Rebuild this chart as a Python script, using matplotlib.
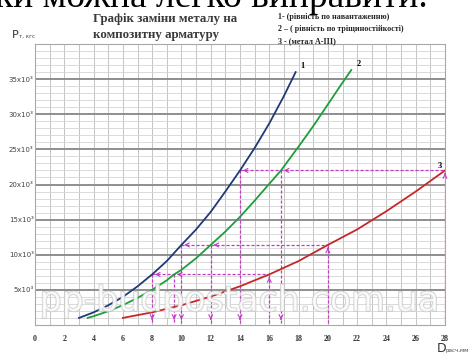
import matplotlib
matplotlib.use("Agg")
import matplotlib.pyplot as plt
import matplotlib.patheffects as PathEffects
from matplotlib.ticker import MultipleLocator

# Curve data (diameter, load)
d_curve1 = [3, 4, 5, 6, 7, 8, 9, 10, 11, 12, 13, 14, 15, 16, 17, 17.8]
p_curve1 = [1000, 1800, 2800, 4000, 5500, 7200, 9100, 11400, 13600, 16100,
            19000, 22000, 25200, 28700, 32600, 36000]

d_curve2 = [3.6, 4, 5, 6, 7, 8, 9, 9.5, 10, 11, 12, 13, 14, 15, 16, 16.8,
            18, 19, 20, 21, 21.6]
p_curve2 = [1020, 1250, 1960, 2830, 3850, 5020, 6360, 7200, 7850, 9500,
            11400, 13300, 15400, 17700, 20100, 22000, 25400, 28300, 31400,
            34500, 36300]

d_curve3 = [6, 8, 10, 12, 14, 16, 18, 20, 22, 24, 26, 28]
p_curve3 = [1010, 1800, 2810, 4050, 5510, 7200, 9100, 11400, 13600, 16200,
            19000, 22000]

# Dashed read-off examples: load level and diameters on curves 1, 2, 3
levels = [7200, 11400, 22000]
d_on_1 = [8, 10, 14]
d_on_2 = [9.5, 12, 16.8]
d_on_3 = [16, 20, 28]

x_ticks = list(range(0, 29, 2))
y_ticks = [5000, 10000, 15000, 20000, 25000, 30000, 35000]
y_labels = ["5x10³", "10x10³", "15x10³", "20x10³", "25x10³", "30x10³", "35x10³"]

legend_lines = ["1- (рівність по навантаженню)",
                "2 – ( рівність по тріщиностійкості)",
                "3 - (метал А-ІІІ)"]

fig = plt.figure(figsize=(4.7, 3.54), dpi=100)
fig.patch.set_facecolor("white")
ax = fig.add_axes([35 / 470, 29 / 354, 410 / 470, 281 / 354])

ax.set_xlim(0, 28)
ax.set_ylim(0, 40000)

# grid
ax.xaxis.set_major_locator(MultipleLocator(2))
ax.xaxis.set_minor_locator(MultipleLocator(1))
ax.set_yticks(y_ticks)
ax.yaxis.set_minor_locator(MultipleLocator(1000))
ax.grid(which="minor", axis="y", color="#d4d4d4", lw=0.6)
ax.grid(which="both", axis="x", color="#c4c4c4", lw=0.7)
ax.grid(which="major", axis="y", color="#8e8e8e", lw=1.4)
ax.set_axisbelow(True)
for s in ax.spines.values():
    s.set_color("#a8a8a8")
    s.set_linewidth(0.8)

ax.set_xticks(x_ticks)
ax.set_xticklabels([str(v) for v in x_ticks], fontsize=5.8, family="Liberation Serif",
                   fontweight="bold", color="#333333")
ax.set_yticklabels(y_labels, fontsize=5, color="#444444")
ax.tick_params(which="both", length=0)
ax.tick_params(axis="x", pad=7)
ax.tick_params(axis="y", pad=1)

# curves
ax.plot(d_curve1, p_curve1, color="#1f3a78", lw=1.3, zorder=4)
ax.plot(d_curve2, p_curve2, color="#1e9e3a", lw=1.3, zorder=4)
ax.plot(d_curve3, p_curve3, color="#c42828", lw=1.3, zorder=4)

mag = "#c23cc2"
bottom = 350
for lvl, a, b, c in zip(levels, d_on_1, d_on_2, d_on_3):
    ax.plot([c, c], [bottom, lvl], ls="--", color=mag, lw=0.9, dashes=(2.5, 1.5), zorder=3)
    ax.plot([a, c], [lvl, lvl], ls="--", color=mag, lw=0.9, dashes=(2.5, 1.5), zorder=3)
    ax.plot([a, a], [lvl, bottom], ls="--", color=mag, lw=0.9, dashes=(2.5, 1.5), zorder=3)
    ax.plot([b, b], [lvl, bottom], ls="--", color=mag, lw=0.9, dashes=(2.5, 1.5), zorder=3)
    arr = dict(arrowstyle="->", color=mag, lw=0.8, mutation_scale=7)
    ax.annotate("", xy=(c, lvl), xytext=(c, lvl - 900), arrowprops=arr, zorder=5)
    ax.annotate("", xy=(b, lvl), xytext=(b + 0.6, lvl), arrowprops=arr, zorder=5)
    ax.annotate("", xy=(a, lvl), xytext=(a + 0.6, lvl), arrowprops=arr, zorder=5)
    ax.annotate("", xy=(a, bottom), xytext=(a, bottom + 900), arrowprops=arr, zorder=5)
    ax.annotate("", xy=(b, bottom), xytext=(b, bottom + 900), arrowprops=arr, zorder=5)

# curve numbers
ax.text(d_curve1[-1] + 0.35, p_curve1[-1] + 300, "1", fontsize=6, fontweight="bold",
        family="Liberation Serif", ha="left", va="bottom")
ax.text(d_curve2[-1] + 0.35, p_curve2[-1] + 300, "2", fontsize=6, fontweight="bold",
        family="Liberation Serif", ha="left", va="bottom")
ax.text(d_curve3[-1] - 0.2, p_curve3[-1] + 100, "3", fontsize=6, fontweight="bold",
        family="Liberation Serif", ha="right", va="bottom")

# watermark
wm = fig.text(0.51, 0.15, "pp-budpostach.com.ua", fontsize=25, ha="center", va="center",
              color="white", alpha=0.7, zorder=10)
wm.set_path_effects([PathEffects.withStroke(linewidth=1.3, foreground="#c4c4c4")])

# cropped caption at the very top
fig.text(-0.01, 1 - 7 / 354, "ки можна легко виправити.", fontsize=27,
         family="Liberation Serif", ha="left", va="baseline", color="black")

# title and legend
fig.text(93 / 470, 1 - 19 / 354, "Графік заміни металу на", fontsize=9.3,
         family="Liberation Serif", fontweight="bold", color="#3a3a3a", va="center")
fig.text(93 / 470, 1 - 35 / 354, "композитну арматуру", fontsize=9.3,
         family="Liberation Serif", fontweight="bold", color="#3a3a3a", va="center")
for i, line in enumerate(legend_lines):
    fig.text(278 / 470, 1 - (17 + 12 * i) / 354, line, fontsize=5.8,
             family="Liberation Serif", fontweight="bold", color="#222222", va="center")

# axis labels
fig.text(12 / 470, 1 - 38 / 354, "P", fontsize=8, color="#333333", va="baseline")
fig.text(19 / 470, 1 - 38 / 354, "т, кгс", fontsize=4, color="#444444", va="baseline")
fig.text(437 / 470, 1 - 352 / 354, "D", fontsize=9, color="#333333", va="baseline")
fig.text(445 / 470, 1 - 352 / 354, "расч,мм", fontsize=4, color="#444444", va="baseline")

fig.savefig("out.png", dpi=100)
